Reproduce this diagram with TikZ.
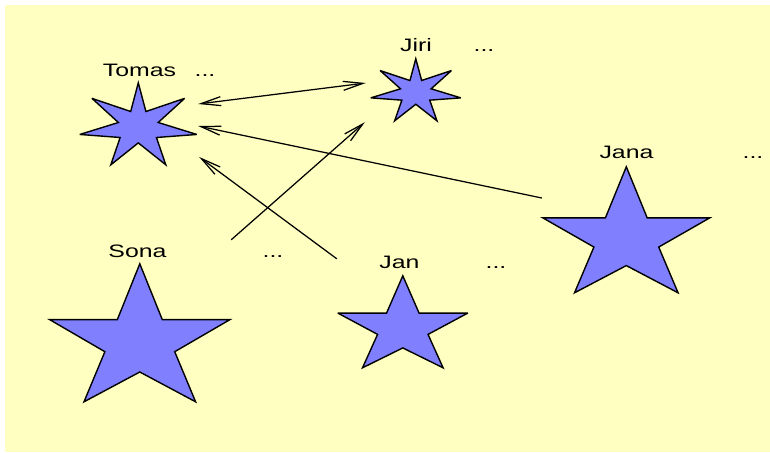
\documentclass[tikz,border=0pt]{standalone}
\usepackage{fontspec}
\setmainfont{Liberation Sans}
\usetikzlibrary{arrows.meta,calc}
\definecolor{bgyellow}{RGB}{255,255,194}
\definecolor{starblue}{RGB}{128,128,255}
\newcommand\wtext[1]{\scalebox{1.38}[1]{#1}}
\tikzset{
  starbox/.style={rectangle, inner sep=0pt, draw=none},
  starline/.style={fill=starblue, draw=black, line width=1.4pt, line join=miter, miter limit=4},
  lbl/.style={font=\fontsize{18}{20}\selectfont, text=black, inner sep=0pt, anchor=base},
  arr/.style={draw=black, line width=1.25pt, >={Straight Barb[length=20pt,width=9pt]}},
}
\newcommand\mystarfive[5]{%
  \node[starbox, minimum width=#4pt, minimum height=#5pt] (#1) at (#2,#3) {};
  \begin{scope}[shift={(#1.north west)}, xscale=#4, yscale=#5]
    \draw[starline] (0.5,0) -- (0.625,0.405) -- (1,0.405) -- (0.694,0.637) -- (0.81,1)
      -- (0.5,0.784) -- (0.19,1) -- (0.306,0.637) -- (0,0.405) -- (0.375,0.405) -- cycle;
  \end{scope}}
\newcommand\mystarseven[5]{%
  \node[starbox, minimum width=#4pt, minimum height=#5pt] (#1) at (#2,#3) {};
  \begin{scope}[shift={(#1.north west)}, xscale=#4, yscale=#5]
    \draw[starline] (0.5,0) -- (0.565,0.35) -- (0.896,0.19) -- (0.67,0.484) -- (1,0.63)
      -- (0.655,0.667) -- (0.735,1) -- (0.5,0.733) -- (0.265,1) -- (0.345,0.667)
      -- (0,0.63) -- (0.33,0.484) -- (0.104,0.19) -- (0.435,0.35) -- cycle;
  \end{scope}}
\begin{document}
\begin{tikzpicture}[x=1pt,y=-1pt]
  \useasboundingbox (0,0) rectangle (770,452);
  \fill[bgyellow] (5,5) rectangle (770,452);

  % stars
  \mystarseven{tomas}{138.5}{124}{117}{82}
  \mystarseven{jiri}{416}{90}{90}{62}
  \mystarfive{jana}{626.5}{230}{167}{126}
  \mystarfive{sona}{140}{333}{180}{138}
  \mystarfive{jan}{403}{322}{130}{92}

  % labels
  \node[lbl] (tomaslbl) at (139.5,77) {\wtext{Tomas}};
  \node[lbl] (tomasdots) at (205,77) {\wtext{...}};
  \node[lbl] (jirilbl) at (416,52) {\wtext{Jiri}};
  \node[lbl] (jiridots) at (484,52) {\wtext{...}};
  \node[lbl] (janalbl) at (626.5,158) {\wtext{Jana}};
  \node[lbl] (janadots) at (753,158) {\wtext{...}};
  \node[lbl] (sonalbl) at (137.5,257) {\wtext{Sona}};
  \node[lbl] (sonadots) at (273,257) {\wtext{...}};
  \node[lbl] (janlbl) at (399.5,268) {\wtext{Jan}};
  \node[lbl] (jandots) at (496,268) {\wtext{...}};

  % connectors
  \draw[arr, <->] ($(tomas.east)+(1,-20)$) -- ($(jiri.west)+(-5,-7)$);
  \draw[arr, ->] ($(jana.west)+(-1,-32)$) -- ($(tomas.east)+(1,2)$);
  \draw[arr, ->] ($(jan.north west)+(-1,-17)$) -- ($(tomas.east)+(2,33)$);
  \draw[arr, ->] ($(sona.north east)+(1,-24)$) -- ($(jiri.south west)+(-6,1)$);
\end{tikzpicture}
\end{document}
